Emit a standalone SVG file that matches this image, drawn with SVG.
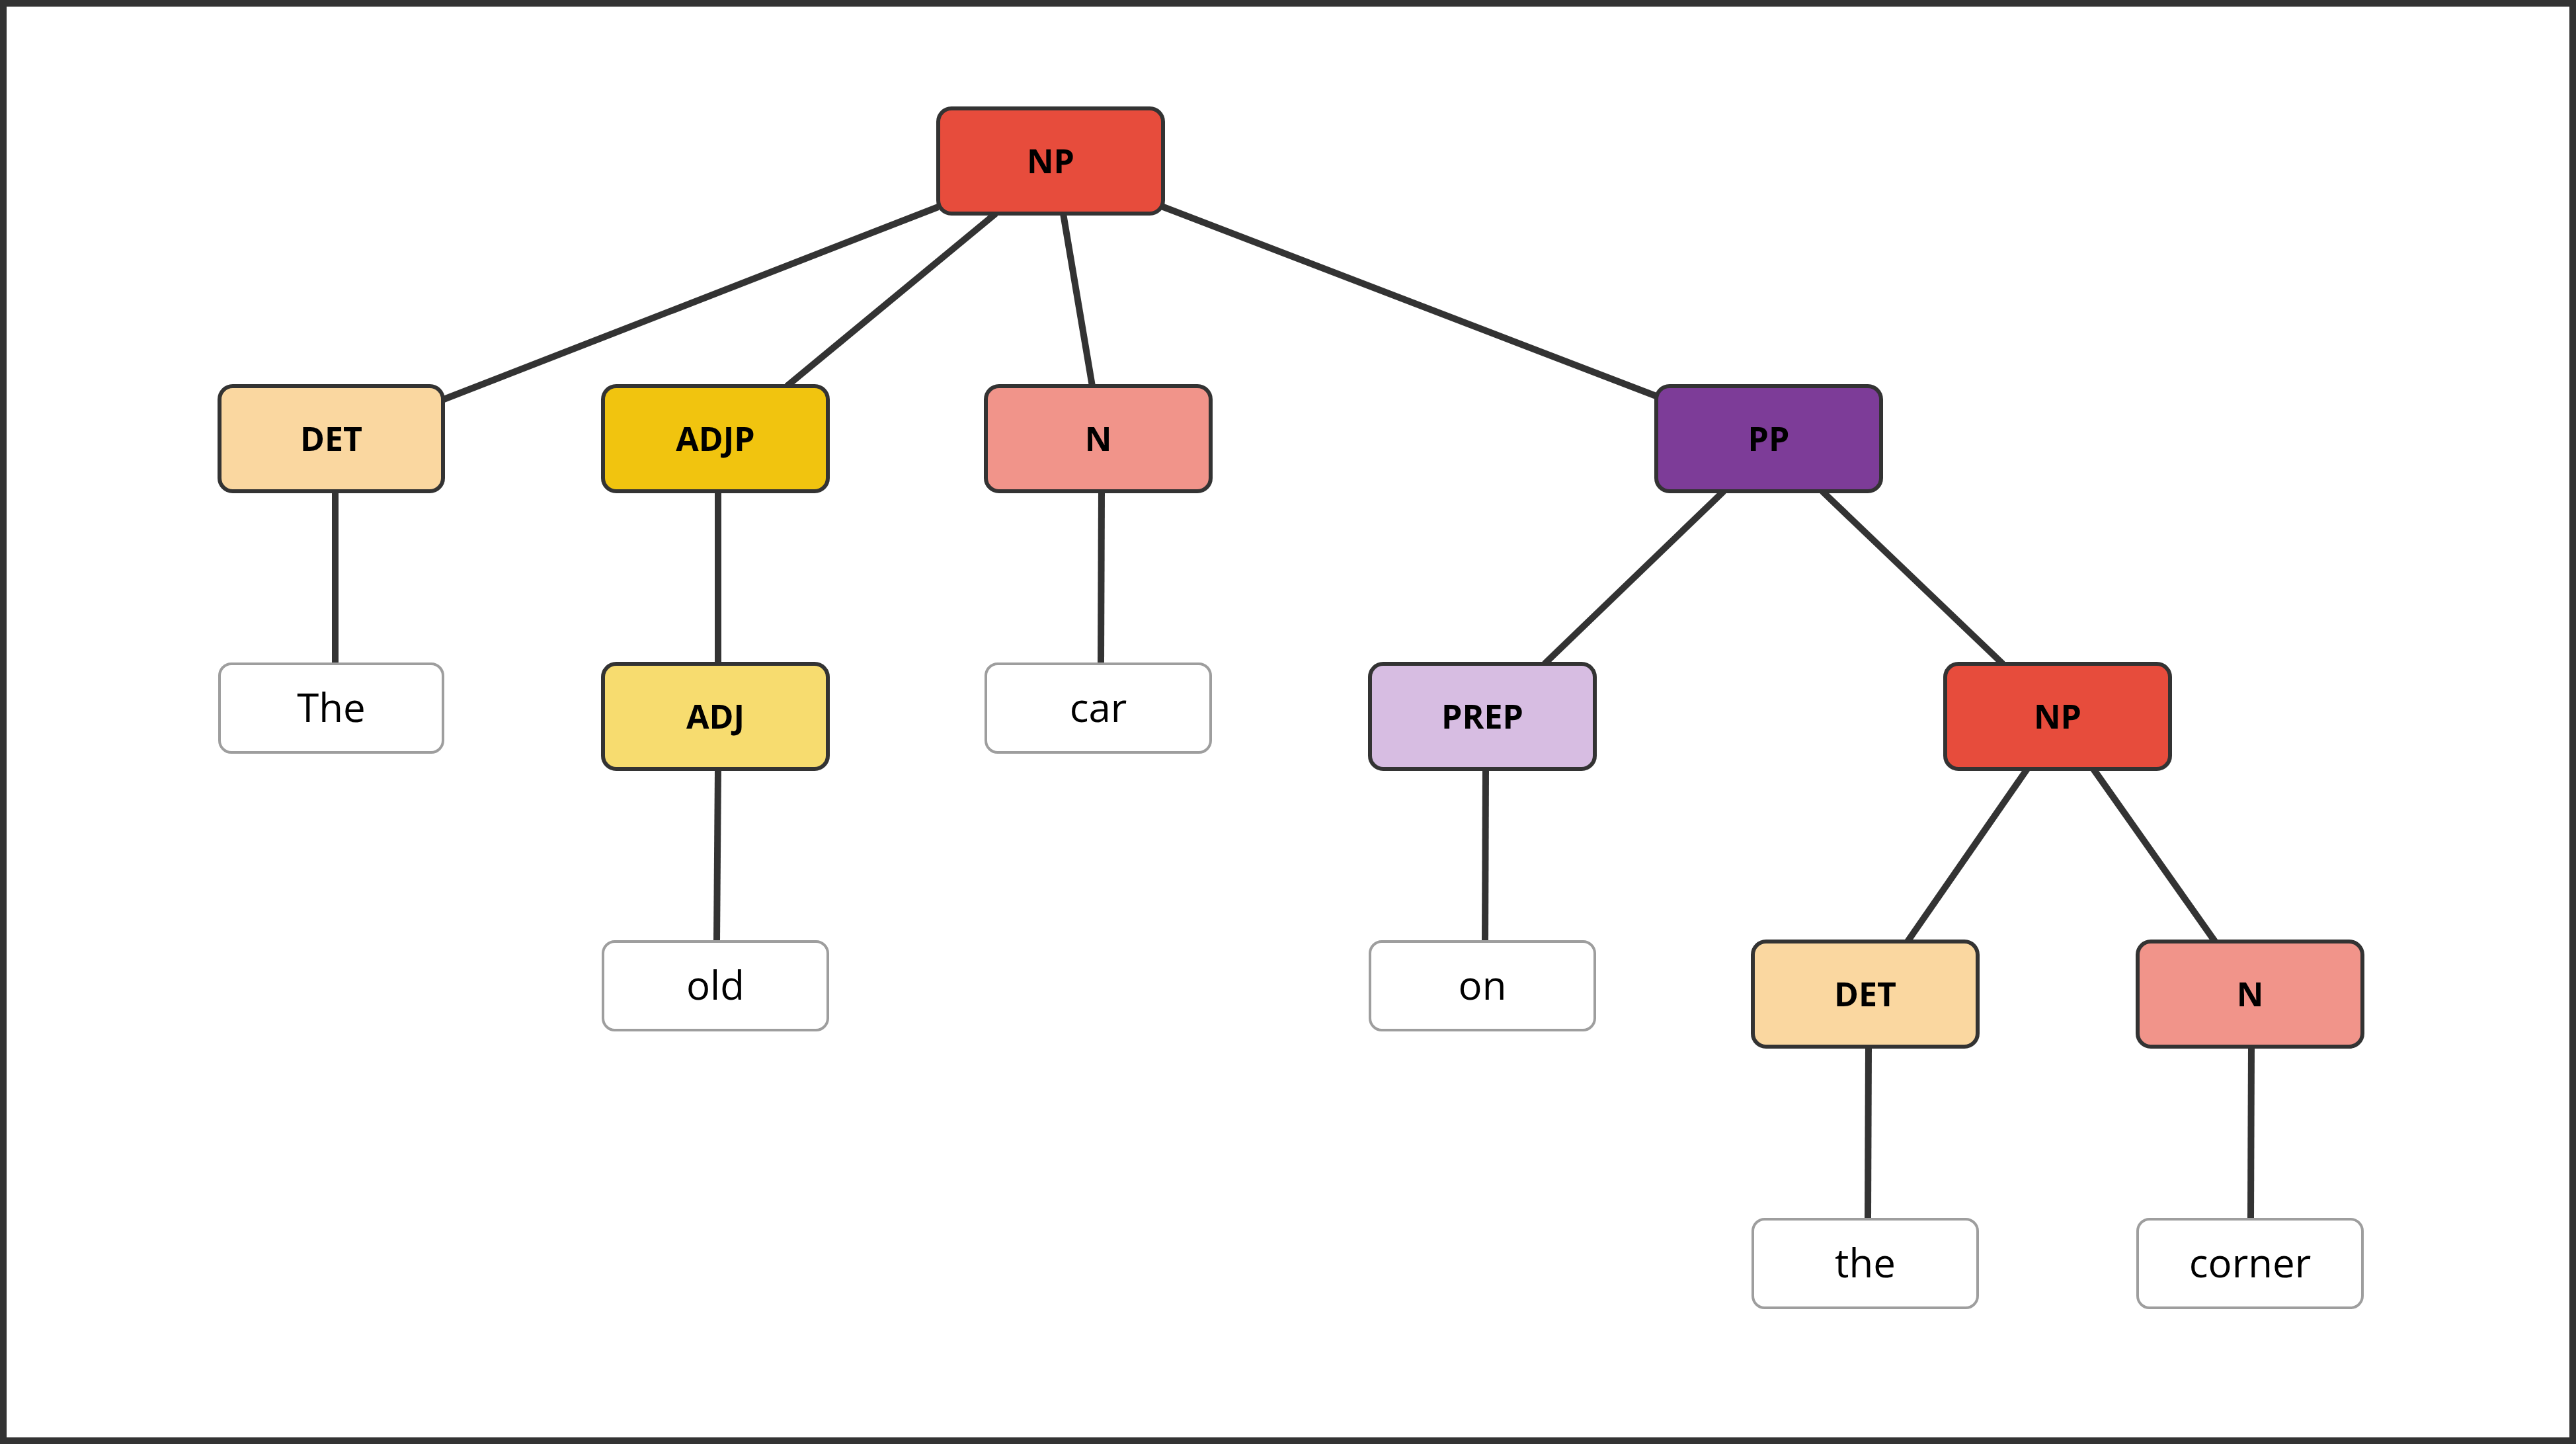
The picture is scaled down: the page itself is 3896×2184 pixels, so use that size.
<svg xmlns="http://www.w3.org/2000/svg" width="3896" height="2184" viewBox="0 0 3896 2184">
<style>
.n{stroke:#333;stroke-width:6}
.l{fill:#fff;stroke:#9e9e9e;stroke-width:4}
.t{font-family:"Open Sans","Noto Sans",sans-serif;font-weight:bold;font-size:50px;fill:#000;text-anchor:middle;dominant-baseline:central}
.w{font-family:"Open Sans","Noto Sans",sans-serif;font-size:60px;fill:#000;text-anchor:middle;dominant-baseline:central}
.e line{stroke:#333;stroke-width:10}
</style>
<rect x="0" y="0" width="3896" height="2184" fill="#fff"/>
<rect x="5" y="5" width="3886" height="2174" fill="none" stroke="#333" stroke-width="10"/>
<g id="connectors" class="e">
<line x1="1419" y1="313" x2="671" y2="604"/>
<line x1="1506" y1="323" x2="1190" y2="584"/>
<line x1="1608" y1="323" x2="1652" y2="584"/>
<line x1="1754" y1="311" x2="2510" y2="601"/>
<line x1="507" y1="743" x2="507" y2="1004"/>
<line x1="1086" y1="743" x2="1086" y2="1004"/>
<line x1="1086" y1="1163" x2="1084" y2="1424"/>
<line x1="1666" y1="743" x2="1665" y2="1004"/>
<line x1="2607" y1="743" x2="2336" y2="1004"/>
<line x1="2756" y1="743" x2="3029" y2="1004"/>
<line x1="2247" y1="1163" x2="2246" y2="1424"/>
<line x1="3066" y1="1163" x2="2885" y2="1424"/>
<line x1="3166" y1="1163" x2="3350" y2="1424"/>
<line x1="2826" y1="1583" x2="2825" y2="1844"/>
<line x1="3405" y1="1583" x2="3404" y2="1844"/>
</g>
<g id="np1"><rect class="n" x="1419" y="164" width="340" height="159" rx="20" fill="#E74C3C"/><text class="t" x="1589" y="243">NP</text></g>
<g id="det1"><rect class="n" x="332" y="584" width="338" height="159" rx="20" fill="#FAD7A0"/><text class="t" x="501" y="663">DET</text></g>
<g id="adjp"><rect class="n" x="912" y="584" width="340" height="159" rx="20" fill="#F1C40F"/><text class="t" x="1082" y="663">ADJP</text></g>
<g id="n1"><rect class="n" x="1491" y="584" width="340" height="159" rx="20" fill="#F1948A"/><text class="t" x="1661" y="663">N</text></g>
<g id="pp"><rect class="n" x="2505" y="584" width="340" height="159" rx="20" fill="#7D3C98"/><text class="t" x="2675" y="663">PP</text></g>
<g id="w-the"><rect class="l" x="332" y="1004" width="338" height="134" rx="18"/><text class="w" x="501" y="1069">The</text></g>
<g id="adj"><rect class="n" x="912" y="1004" width="340" height="159" rx="20" fill="#F7DC6F"/><text class="t" x="1082" y="1083">ADJ</text></g>
<g id="w-car"><rect class="l" x="1491" y="1004" width="340" height="134" rx="18"/><text class="w" x="1661" y="1069">car</text></g>
<g id="prep"><rect class="n" x="2072" y="1004" width="340" height="159" rx="20" fill="#D7BDE2"/><text class="t" x="2242" y="1083">PREP</text></g>
<g id="np2"><rect class="n" x="2942" y="1004" width="340" height="159" rx="20" fill="#E74C3C"/><text class="t" x="3112" y="1083">NP</text></g>
<g id="w-old"><rect class="l" x="912" y="1424" width="340" height="134" rx="18"/><text class="w" x="1082" y="1489">old</text></g>
<g id="w-on"><rect class="l" x="2072" y="1424" width="340" height="134" rx="18"/><text class="w" x="2242" y="1489">on</text></g>
<g id="det2"><rect class="n" x="2651" y="1424" width="340" height="159" rx="20" fill="#FAD7A0"/><text class="t" x="2821" y="1503">DET</text></g>
<g id="n2"><rect class="n" x="3233" y="1424" width="340" height="159" rx="20" fill="#F1948A"/><text class="t" x="3403" y="1503">N</text></g>
<g id="w-the2"><rect class="l" x="2651" y="1844" width="340" height="134" rx="18"/><text class="w" x="2821" y="1909">the</text></g>
<g id="w-corner"><rect class="l" x="3233" y="1844" width="340" height="134" rx="18"/><text class="w" x="3403" y="1909">corner</text></g>
</svg>
